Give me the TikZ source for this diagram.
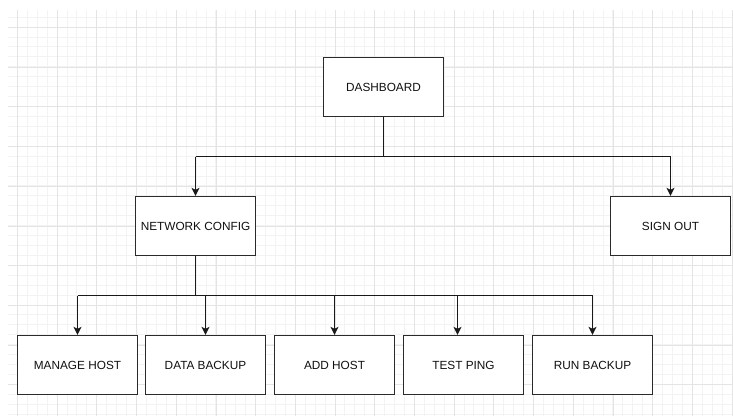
\documentclass[tikz,border=0pt]{standalone}
\usepackage{fontspec}
\setmainfont{Liberation Sans}
\usetikzlibrary{arrows.meta,calc}
\definecolor{gridminor}{HTML}{F3F3F3}
\definecolor{gridmajor}{HTML}{E4E4E4}
\definecolor{boxline}{HTML}{2A2A2A}
\definecolor{txt}{HTML}{101010}
\tikzset{
  box/.style={draw=boxline, line width=1.35pt, fill=white, minimum width=120, minimum height=59,
    inner sep=0pt, font=\fontsize{11.8}{13}\selectfont, text=txt},
  conn/.style={draw=black!90, line width=1.35pt},
  arr/.style={conn, -{Stealth[length=8pt,width=8pt,inset=2pt]}},
  minorline/.style={draw=gridminor, line width=0.8pt},
  majorline/.style={draw=gridmajor, line width=1pt}
}
\begin{document}
\begin{tikzpicture}[x=1pt,y=-1pt]
\useasboundingbox (0,0) rectangle (733,416);
\fill[white] (0,0) rectangle (733,416);
\begin{scope}
\clip (8,10) rectangle (733,416);
\foreach \i in {0,...,74} {
  \draw[minorline] ({7.4+9.925*\i},10) -- ({7.4+9.925*\i},416);
}
\foreach \j in {0,...,41} {
  \draw[minorline] (8,{17.1+9.925*\j}) -- (733,{17.1+9.925*\j});
}
\foreach \i in {0,...,18} {
  \draw[majorline] ({17.5+39.7*\i},10) -- ({17.5+39.7*\i},416);
}
\foreach \j in {0,...,10} {
  \draw[majorline] (8,{27.5+39.7*\j}) -- (733,{27.5+39.7*\j});
}
\end{scope}

\node[box] (dash) at (383.5,87) {DASHBOARD};
\node[box] (nc) at (195.5,226) {NETWORK CONFIG};
\node[box] (so) at (670.5,226) {SIGN OUT};
\node[box] (mh) at (77.5,365) {MANAGE HOST};
\node[box] (db) at (205.5,365) {DATA BACKUP};
\node[box] (ah) at (334.5,365) {ADD HOST};
\node[box] (tp) at (463.5,365) {TEST PING};
\node[box] (rb) at (592.5,365) {RUN BACKUP};

\coordinate (top) at (383.5,156.5);
\coordinate (bus) at (195.5,295.5);
\coordinate (tpin) at ([xshift=-6pt]tp.north);

% upper level
\draw[conn] (dash.south) -- (top);
\draw[conn] (nc.north |- top) -- (so.north |- top);
\draw[arr] (nc.north |- top) -- (nc.north);
\draw[arr] (so.north |- top) -- (so.north);

% lower level
\draw[conn] (nc.south) -- (bus);
\draw[conn] (mh.north |- bus) -- (rb.north |- bus);
\draw[arr] (mh.north |- bus) -- (mh.north);
\draw[arr] (db.north |- bus) -- (db.north);
\draw[arr] (ah.north |- bus) -- (ah.north);
\draw[arr] (tpin |- bus) -- (tpin);
\draw[arr] (rb.north |- bus) -- (rb.north);
\end{tikzpicture}
\end{document}
